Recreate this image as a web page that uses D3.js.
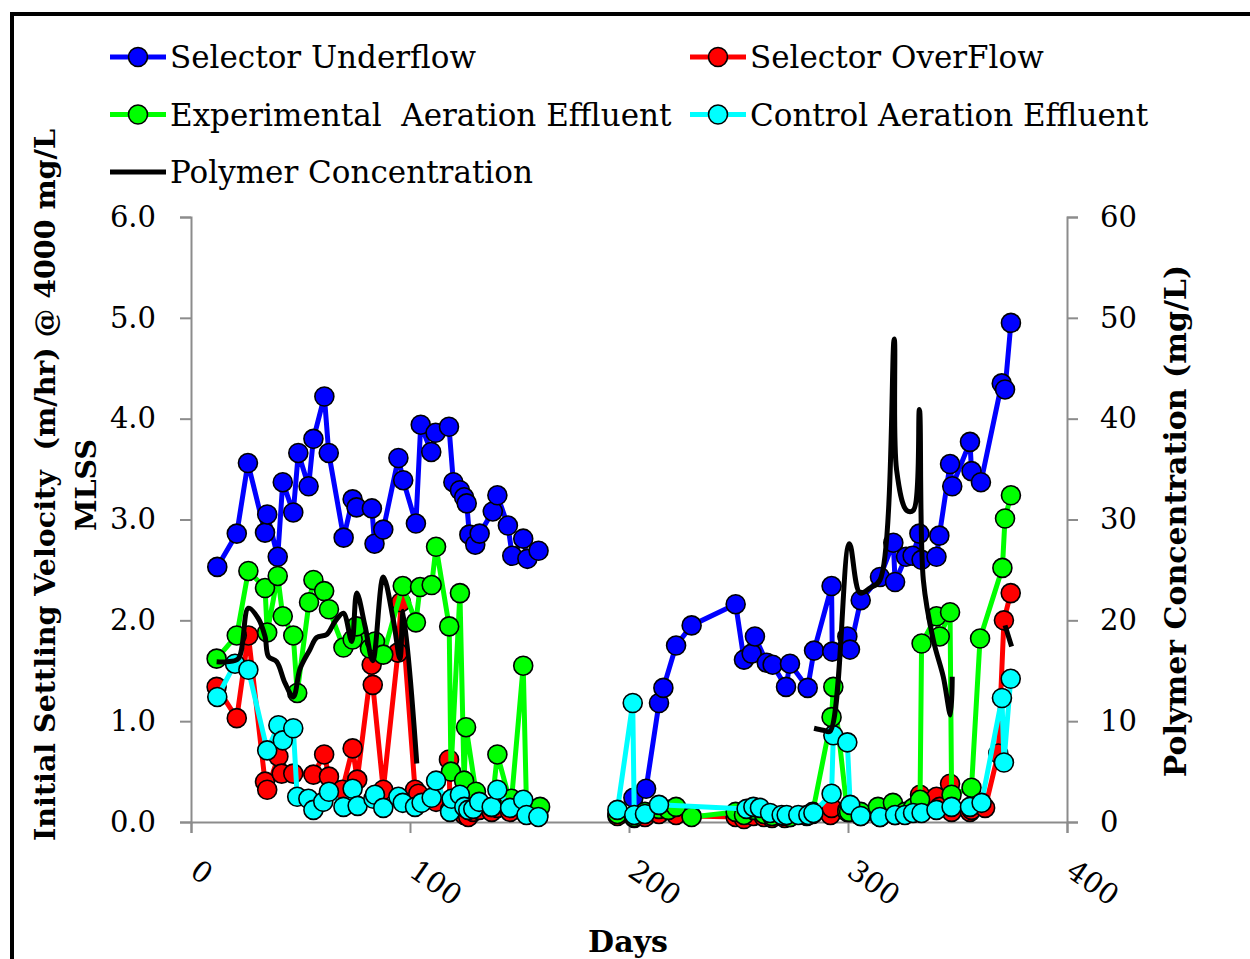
<!DOCTYPE html>
<html>
<head>
<meta charset="utf-8">
<script src="https://d3js.org/d3.v7.min.js"></script>
<style>
  body { margin: 0; background: #fff; }
  text { font-family: "DejaVu Serif", serif; }
</style>
</head>
<body>
<script>
var width = 1250,
    height = 959;

// [day, value]; null breaks the line
var underflow = [
  [12,2.53],[20.9,2.86],[26,3.56],[33.8,2.87],[34.8,3.05],[39.6,2.63],[41.9,3.37],[46.7,3.07],
  [49,3.66],[53.7,3.33],[55.9,3.80],[60.9,4.22],[62.9,3.66],[69.7,2.82],[73.8,3.20],[75.6,3.12],
  [82.6,3.11],[83.8,2.76],[87.8,2.90],[94.7,3.61],[96.9,3.39],[102.7,2.96],[104.9,3.94],[109.7,3.67],
  [111.7,3.86],[117.8,3.92],[119.8,3.37],[122.8,3.29],[124.7,3.22],[125.9,3.16],[127.1,2.85],[129.8,2.75],
  [131.8,2.86],[137.8,3.08],[139.9,3.24],[144.7,2.94],[146.7,2.64],[151.7,2.81],[153.6,2.61],[158.7,2.69],
  null,
  [202,0.24],[207.8,0.33],[213.7,1.18],[215.7,1.33],[221.5,1.75],[228.6,1.95],[248.7,2.16],[252.5,1.61],
  [256,1.67],[257.5,1.84],[262.9,1.58],[265.6,1.56],[271.7,1.34],[273.5,1.57],[281.6,1.33],[284.5,1.70],
  [292.5,2.34],[292.8,1.69],[299.7,1.84],[300.9,1.71],[305.8,2.20],[314.6,2.43],[320.7,2.77],[321.5,2.38],
  [326.5,2.63],[329.5,2.64],[332.6,2.86],[333.6,2.60],[340.4,2.63],[341.7,2.84],[346.6,3.55],[347.6,3.33],
  [355.7,3.77],[356.4,3.48],[360.7,3.37],[370.2,4.35],[371.7,4.29],[374.4,4.95]
];

var overflow = [
  [11.7,1.34],[20.9,1.03],[26.2,1.85],[33.8,0.40],[34.8,0.32],[39.9,0.65],[41.4,0.48],[46.7,0.48],
  [55.9,0.47],[60.8,0.67],[63,0.45],[69.1,0.32],[73.8,0.73],[75.9,0.42],[82.5,1.56],[83,1.36],
  [87.8,0.32],[94.5,1.68],[95.9,2.18],[102.3,0.32],[103.8,0.28],[111.9,0.20],[117.8,0.62],[118.3,0.12],
  [122.8,0.15],[124.8,0.07],[126.6,0.05],[128.9,0.10],[131.6,0.12],[137.3,0.10],[139.9,0.14],[145.7,0.10],
  [151.7,0.15],[153.2,0.08],[158.6,0.07],
  null,
  [194.7,0.06],[202.4,0.04],[207.3,0.05],[213.7,0.08],[221.5,0.07],[228.6,0.06],[248.7,0.05],[252.5,0.03],
  [256.8,0.06],[261.6,0.05],[265.3,0.04],[271.1,0.04],[273.5,0.05],[281.2,0.06],[283.9,0.08],[292,0.07],
  [292.5,0.14],[299.7,0.12],[301,0.10],[305.8,0.06],[314.6,0.05],[321.5,0.07],[326,0.08],[329.7,0.10],
  [332.9,0.27],[333.6,0.15],[340.4,0.25],[341.9,0.15],[346.6,0.38],[347.3,0.10],[355.7,0.10],[356.4,0.12],
  [362.6,0.14],[368.6,0.68],[371.2,2.00],[374.3,2.27]
];

var experimental = [
  [11.7,1.62],[20.9,1.85],[26.2,2.49],[33.8,2.32],[34.8,1.88],[39.6,2.44],[41.9,2.04],[46.7,1.85],
  [48.5,1.28],[53.9,2.18],[55.9,2.40],[60.8,2.29],[63,2.11],[69.6,1.73],[73.8,1.81],[75.6,1.94],
  [81.7,1.72],[84,1.79],[87.8,1.66],[96.7,2.34],[102.7,1.98],[104.6,2.33],[109.9,2.35],[111.9,2.73],
  [117.9,1.94],[118.7,0.50],[122.8,2.27],[124.7,0.41],[125.6,0.94],[130.1,0.30],[137.3,0.15],[139.9,0.67],
  [145.7,0.20],[146.4,0.23],[151.7,1.55],[153.2,0.15],[159.4,0.15],
  null,
  [194.7,0.08],[202.4,0.05],[207.3,0.10],[213.7,0.13],[218,0.12],[221.5,0.15],[228.6,0.05],[248.7,0.10],
  [252.5,0.07],[256.8,0.12],[261.6,0.08],[265.3,0.06],[271.1,0.06],[273.5,0.05],[281.2,0.07],[283.9,0.10],
  [292.5,1.04],[293.3,1.34],[299.7,0.10],[300.5,0.10],[305.8,0.10],[313.7,0.15],[320.5,0.19],[326,0.10],
  [329.7,0.14],[332.9,0.22],[333.6,1.77],[340.4,2.04],[341.9,1.84],[346.6,2.08],[347.3,0.27],[356.4,0.34],
  [360.3,1.82],[370.5,2.52],[371.7,3.01],[374.4,3.24]
];

var control = [
  [12,1.24],[20.1,1.57],[26.2,1.51],[34.8,0.71],[39.9,0.96],[41.9,0.81],[46.7,0.93],[48.5,0.25],
  [53.6,0.23],[55.9,0.12],[60.4,0.20],[63,0.30],[69.6,0.15],[73.8,0.33],[76.1,0.16],[83.3,0.23],
  [84,0.27],[87.8,0.14],[94.7,0.25],[96.7,0.19],[102.3,0.15],[105.3,0.19],[109.9,0.24],[111.9,0.41],
  [118.3,0.10],[119,0.23],[122.8,0.27],[124.8,0.15],[126.6,0.12],[128.9,0.13],[131.6,0.20],[137.3,0.15],
  [139.9,0.32],[145.7,0.14],[151.7,0.22],[153.2,0.07],[158.6,0.05],
  null,
  [194.7,0.12],[201.7,1.18],[202.4,0.07],[207.3,0.08],[213.7,0.17],[253.7,0.13],[256.8,0.15],[259.8,0.14],
  [264.4,0.09],[269.7,0.07],[272,0.07],[277.3,0.07],[281.9,0.07],[284.2,0.09],[292.5,0.28],[293.3,0.86],
  [299.7,0.79],[301,0.17],[305.8,0.06],[314.6,0.05],[321.5,0.07],[326,0.07],[329.7,0.09],[333.6,0.09],
  [340.4,0.12],[347.3,0.15],[355.7,0.15],[361,0.19],[370.3,1.23],[371.2,0.59],[374.3,1.42]
];

// polymer, mg/L on the right axis
var polymer = [
  [11.7,15.9],[16.3,15.9],[21.6,16.2],[26.2,21.2],[30.7,20.2],[33.8,18.4],[35.4,16.4],[39.1,15.9],
  [42.9,13.8],[46.7,12.4],[49.8,15.2],[54.3,17.1],[57.4,18.3],[62,18.6],[65.8,19.9],[69.6,20.7],
  [73.4,17.9],[75.7,22.7],[79.5,19.4],[83,16.0],[87.8,24.3],[92.4,20.0],[95.4,16.2],[96.9,20.9],
  [103.1,5.8],
  null,
  [284.5,9.3],[288.7,9.1],[291.8,9.0],[300.6,27.6],[305.5,22.7],[310,23.2],[314.6,24.0],[321.1,47.9],
  [322.2,34.9],[326.8,30.9],[329.8,30.9],[332.6,40.9],[334.4,24.0],[339,18.0],[343.5,14.4],[346.8,10.6],
  [347.6,14.4],
  null,
  [371.7,19.5],[374.7,17.4]
];

var xTicks = [0, 100, 200, 300, 400];
var yTicks = [0, 1, 2, 3, 4, 5, 6];
var yRightTicks = [0, 10, 20, 30, 40, 50, 60];

var series = [
  { name: "Selector Underflow", data: underflow, color: "#0000ff" },
  { name: "Selector OverFlow", data: overflow, color: "#ff0000" },
  { name: "Experimental  Aeration Effluent", data: experimental, color: "#00ff00" },
  { name: "Control Aeration Effluent", data: control, color: "#00ffff" }
];

var x = d3.scaleLinear().domain([0, 400]).range([191, 1067]);
var y = d3.scaleLinear().domain([0, 6]).range([822, 217]);
var yR = d3.scaleLinear().domain([0, 60]).range([822, 217]);

var svg = d3.select("body").append("svg")
    .attr("width", width)
    .attr("height", height);

// outer frame
svg.append("rect")
    .attr("x", 12).attr("y", 14)
    .attr("width", 1300).attr("height", 1000)
    .attr("fill", "none")
    .attr("stroke", "#000")
    .attr("stroke-width", 4);

// axes
var gx = svg.append("g")
    .attr("transform", "translate(0,822)")
    .call(d3.axisBottom(x).tickValues(xTicks).tickSize(11).tickFormat(d3.format("d")));
gx.selectAll("text")
    .attr("text-anchor", "start")
    .attr("dy", null)
    .attr("y", null)
    .attr("transform", "translate(-3,53) rotate(35)");

var gy = svg.append("g")
    .attr("transform", "translate(191,0)")
    .call(d3.axisLeft(y).tickValues(yTicks).tickSize(11).tickPadding(24).tickFormat(d3.format(".1f")));

var gyR = svg.append("g")
    .attr("transform", "translate(1067,0)")
    .call(d3.axisRight(yR).tickValues(yRightTicks).tickSize(11).tickPadding(22).tickFormat(d3.format("d")));

svg.selectAll(".domain, .tick line").attr("stroke", "#8c8c8c").attr("stroke-width", 2);
svg.selectAll(".tick text")
    .attr("fill", "#000")
    .style("font-size", "29px");

var line = d3.line()
    .defined(function(d) { return d != null; })
    .x(function(d) { return x(d[0]); })
    .y(function(d) { return y(d[1]); });

var polyLine = d3.line()
    .defined(function(d) { return d != null; })
    .x(function(d) { return x(d[0]); })
    .y(function(d) { return yR(d[1]); })
    .curve(d3.curveCatmullRom.alpha(0.5));

series.forEach(function(s) {
  var g = svg.append("g");
  g.append("path")
      .datum(s.data)
      .attr("fill", "none")
      .attr("stroke", s.color)
      .attr("stroke-width", 5)
      .attr("stroke-linejoin", "round")
      .attr("d", line);
  g.selectAll("circle")
      .data(s.data.filter(function(d) { return d != null; }))
      .enter().append("circle")
      .attr("cx", function(d) { return x(d[0]); })
      .attr("cy", function(d) { return y(d[1]); })
      .attr("r", 9.5)
      .attr("fill", s.color)
      .attr("stroke", "#000")
      .attr("stroke-width", 1.6);
});

svg.append("path")
    .datum(polymer)
    .attr("fill", "none")
    .attr("stroke", "#000")
    .attr("stroke-width", 5)
    .attr("stroke-linejoin", "round")
    .attr("d", polyLine);

// legend
var legendItems = [
  { name: series[0].name, color: series[0].color, col: 0, row: 0, marker: true },
  { name: series[1].name, color: series[1].color, col: 1, row: 0, marker: true },
  { name: series[2].name, color: series[2].color, col: 0, row: 1, marker: true },
  { name: series[3].name, color: series[3].color, col: 1, row: 1, marker: true },
  { name: "Polymer Concentration", color: "#000", col: 0, row: 2, marker: false }
];
var legend = svg.selectAll(".legend")
    .data(legendItems)
    .enter().append("g")
    .attr("class", "legend")
    .attr("transform", function(d) {
      return "translate(" + (d.col ? 690 : 110) + "," + (57 + d.row * 57.5) + ")";
    });
legend.append("line")
    .attr("x1", 0).attr("x2", 56)
    .attr("stroke", function(d) { return d.color; })
    .attr("stroke-width", 5);
legend.filter(function(d) { return d.marker; }).append("circle")
    .attr("cx", 28).attr("r", 9.5)
    .attr("fill", function(d) { return d.color; })
    .attr("stroke", "#000")
    .attr("stroke-width", 1.6);
legend.append("text")
    .attr("x", 60).attr("y", 11)
    .style("font-size", "31px")
    .style("white-space", "pre")
    .text(function(d) { return d.name; });

// titles
svg.append("text")
    .attr("transform", "translate(55,485) rotate(-90)")
    .attr("text-anchor", "middle")
    .style("font-size", "28.5px")
    .style("font-weight", "bold")
    .style("white-space", "pre")
    .text("Initial Settling Velocity  (m/hr) @ 4000 mg/L");
svg.append("text")
    .attr("transform", "translate(96,485) rotate(-90)")
    .attr("text-anchor", "middle")
    .style("font-size", "28.5px")
    .style("font-weight", "bold")
    .text("MLSS");
svg.append("text")
    .attr("transform", "translate(1186,521) rotate(-90)")
    .attr("text-anchor", "middle")
    .style("font-size", "30px")
    .style("font-weight", "bold")
    .text("Polymer Concentration (mg/L)");
svg.append("text")
    .attr("x", 628).attr("y", 952)
    .attr("text-anchor", "middle")
    .style("font-size", "30px")
    .style("font-weight", "bold")
    .text("Days");
</script>
</body>
</html>
